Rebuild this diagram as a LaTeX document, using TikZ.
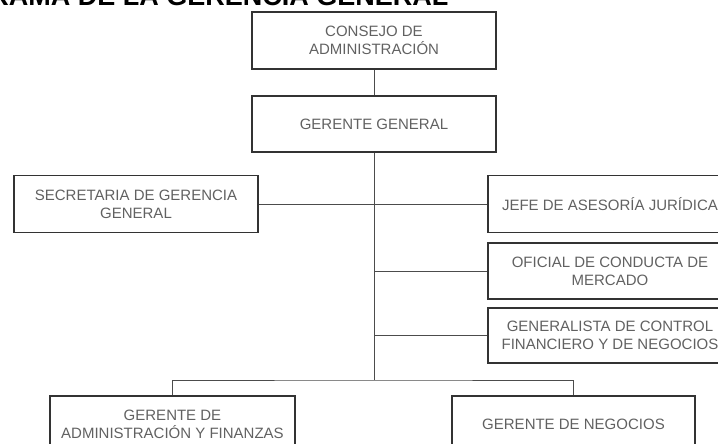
\documentclass[tikz,border=0pt]{standalone}
\usepackage{fontspec}
\setmainfont{Liberation Sans}
\begin{document}
\begin{tikzpicture}[x=1pt,y=-1pt,
  box/.style={draw=black!80, line width=1.2pt, minimum width=244pt, minimum height=56pt,
    align=center, text=black!62, font=\fontsize{15}{18}\selectfont, inner sep=0pt},
  conn/.style={draw=black!70, line width=0.9pt}]
\useasboundingbox (0,0) rectangle (718,444);
\clip (0,0) rectangle (718,444);
\node[anchor=base east, font=\fontsize{27}{30}\selectfont\bfseries] (title) at (452,6) {ORGANIGRAMA DE LA GERENCIA GENERAL};
\node[box, minimum height=57pt] (cons) at (374,40.5) {CONSEJO DE\\ADMINISTRACIÓN};
\node[box] (gg) at (374,124) {GERENTE GENERAL};
\node[box, minimum height=57pt] (sec) at (136,204) {SECRETARIA DE GERENCIA\\GENERAL};
\node[box, minimum height=57pt] (jefe) at (610,204) {JEFE DE ASESORÍA JURÍDICA};
\node[box] (ofi) at (610,271) {OFICIAL DE CONDUCTA DE\\MERCADO};
\node[box, minimum height=55pt] (gen) at (610,335.5) {GENERALISTA DE CONTROL\\FINANCIERO Y DE NEGOCIOS};
\node[box, minimum height=57pt, minimum width=245pt] (gaf) at (172.5,424.5) {GERENTE DE\\ADMINISTRACIÓN Y FINANZAS};
\node[box, minimum height=57pt, minimum width=243pt] (gneg) at (573.5,424.5) {GERENTE DE NEGOCIOS};
\coordinate (tb) at (374,380);
\draw[conn] (cons) -- (gg);
\draw[conn] (gg.south) -- (tb);
\draw[conn] (sec.east) -- (jefe.west);
\draw[conn] (ofi.west) -- (ofi.west -| gg.south);
\draw[conn] (gen.west) -- (gen.west -| gg.south);
\draw[conn] (gaf.north) |- (tb) -| (gneg.north);
\end{tikzpicture}
\end{document}
